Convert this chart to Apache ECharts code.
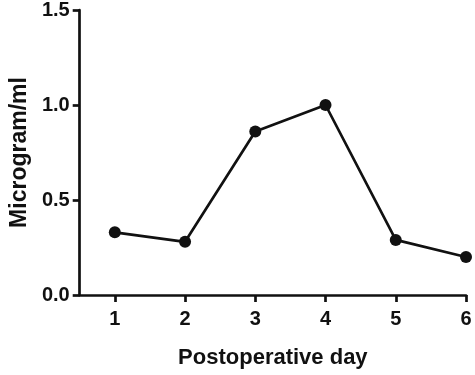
<!DOCTYPE html>
<html>
<head>
<meta charset="utf-8">
<script src="https://cdn.jsdelivr.net/npm/echarts@6/dist/echarts.min.js"></script>
<style>html,body{margin:0;padding:0;background:#fff}#c{width:475px;height:375px}</style>
</head>
<body>
<div id="c"></div>
<script>
var days = [1, 2, 3, 4, 5, 6];
var values = [0.33, 0.28, 0.86, 1.0, 0.29, 0.2];
var yTicks = [0, 0.5, 1.0, 1.5];
var xTitle = 'Postoperative day';
var yTitle = 'Microgram/ml';

var font = '"Liberation Sans", Arial, sans-serif';
var ink = '#111';
var chart = echarts.init(document.getElementById('c'), null, {renderer: 'canvas'});
chart.setOption({
  animation: false,
  backgroundColor: '#fff',
  grid: {left: 72, right: 9, top: 10, bottom: 80, containLabel: false},
  xAxis: {
    type: 'value', min: 0.5, max: 6,
    name: xTitle, nameLocation: 'middle', nameGap: 52,
    nameTextStyle: {fontFamily: font, fontWeight: 'bold', fontSize: 22, color: ink},
    axisLine: {lineStyle: {color: ink, width: 2.7}},
    axisTick: {show: true, length: 7, lineStyle: {color: ink, width: 2.7}, customValues: days},
    axisLabel: {customValues: days, margin: 14, fontFamily: font, fontWeight: 'bold', fontSize: 20, color: ink},
    splitLine: {show: false}
  },
  yAxis: {
    type: 'value', min: 0, max: 1.5, interval: 0.5,
    name: yTitle, nameLocation: 'middle', nameGap: 47,
    nameTextStyle: {fontFamily: font, fontWeight: 'bold', fontSize: 23, color: ink},
    axisLine: {show: true, lineStyle: {color: ink, width: 2.7}},
    axisTick: {show: true, length: 7, lineStyle: {color: ink, width: 2.7}, customValues: yTicks},
    axisLabel: {customValues: yTicks, margin: 10, fontFamily: font, fontWeight: 'bold', fontSize: 20, color: ink,
      formatter: function (v) { return Number(v).toFixed(1); }},
    splitLine: {show: false}
  },
  series: [{
    type: 'line',
    data: days.map(function (d, i) { return [d, values[i]]; }),
    symbol: 'circle', symbolSize: 12,
    lineStyle: {color: ink, width: 2.7},
    itemStyle: {color: ink}
  }]
});
</script>
</body>
</html>
